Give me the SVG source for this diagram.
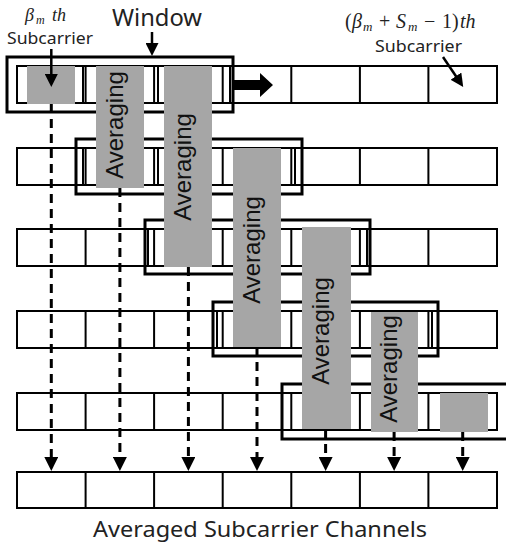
<svg xmlns="http://www.w3.org/2000/svg" width="506" height="552" viewBox="0 0 506 552">
<style>
.row{fill:#fff;stroke:#000;stroke-width:2}
.vl{stroke:#000;stroke-width:2;fill:none}
.win{fill:none;stroke:#000;stroke-width:3}
.box{fill:#a6a6a6}
.avg{font-family:"Liberation Sans",Arial,sans-serif;font-size:24px;fill:#111;text-anchor:middle}
.dash{stroke:#000;stroke-width:3;stroke-dasharray:9 6;fill:none}
.arr{stroke:#000;stroke-width:2.5;fill:none}
.lbl{font-family:"Noto Sans","DejaVu Sans",sans-serif;fill:#222}
.math{font-family:"Liberation Serif",serif;font-style:italic;fill:#222}
.up{font-style:normal}
</style>
<defs>
<marker id="ah" markerUnits="userSpaceOnUse" markerWidth="14" markerHeight="14" viewBox="0 0 14 14" refX="0" refY="7" orient="auto"><path d="M0,0 L14,7 L0,14 z" fill="#000"/></marker>
<marker id="ahs" markerUnits="userSpaceOnUse" markerWidth="13" markerHeight="13" viewBox="0 0 13 13" refX="1" refY="6.5" orient="auto"><path d="M0,0 L13,6.5 L0,13 z" fill="#000"/></marker>
</defs>

<g id="row1">
<rect class="row" x="17" y="66" width="480" height="37"/>
<path class="vl" d="M85.6,66v37M154.1,66v37M222.7,66v37M291.3,66v37M359.9,66v37M428.4,66v37M83,66v37M158,66v37M230,66v37"/>
</g>
<g id="row2">
<rect class="row" x="17" y="148" width="480" height="37"/>
<path class="vl" d="M85.6,148v37M154.1,148v37M222.7,148v37M291.3,148v37M359.9,148v37M428.4,148v37M83,148v37M158,148v37M295,148v37"/>
</g>
<g id="row3">
<rect class="row" x="17" y="229" width="480" height="37"/>
<path class="vl" d="M85.6,229v37M154.1,229v37M222.7,229v37M291.3,229v37M359.9,229v37M428.4,229v37M148,229v37M367,229v37"/>
</g>
<g id="row4">
<rect class="row" x="17" y="311" width="480" height="37"/>
<path class="vl" d="M85.6,311v37M154.1,311v37M222.7,311v37M291.3,311v37M359.9,311v37M428.4,311v37M217,311v37M432,311v37"/>
</g>
<g id="row5">
<rect class="row" x="17" y="393" width="480" height="37"/>
<path class="vl" d="M85.6,393v37M154.1,393v37M222.7,393v37M291.3,393v37M359.9,393v37M428.4,393v37"/>
</g>
<g id="output-row">
<rect class="row" x="17" y="472" width="480" height="36"/>
<path class="vl" d="M85.6,472v36M154.1,472v36M222.7,472v36M291.3,472v36M359.9,472v36M428.4,472v36"/>
</g>

<g id="window1"><rect class="win" x="7" y="57" width="226" height="55"/></g>
<g id="window2"><rect class="win" x="76" y="139" width="226" height="55"/></g>
<g id="window3"><rect class="win" x="145" y="220" width="225" height="54"/></g>
<g id="window4"><rect class="win" x="213" y="302" width="225" height="54"/></g>
<g id="window5"><rect class="win" x="282" y="384" width="230" height="55"/></g>

<g id="avg1"><rect class="box" x="27" y="66" width="48" height="38"/></g>
<g id="avg2"><rect class="box" x="96" y="66" width="48" height="122"/><text class="avg" transform="translate(123,125) rotate(-90)">Averaging</text></g>
<g id="avg3"><rect class="box" x="164" y="66" width="48" height="201"/><text class="avg" transform="translate(191,167) rotate(-90)">Averaging</text></g>
<g id="avg4"><rect class="box" x="233" y="148" width="48" height="199"/><text class="avg" transform="translate(260,250) rotate(-90)">Averaging</text></g>
<g id="avg5"><rect class="box" x="302" y="227" width="49" height="202"/><text class="avg" transform="translate(329,331) rotate(-90)">Averaging</text></g>
<g id="avg6"><rect class="box" x="371" y="312" width="47" height="120"/><text class="avg" transform="translate(397,369) rotate(-90)">Averaging</text></g>
<g id="avg7"><rect class="box" x="440" y="393" width="48" height="39"/></g>

<g id="connectors">
<path class="dash" marker-end="url(#ah)" d="M51.3,104V457"/>
<path class="dash" marker-end="url(#ah)" d="M119.9,188V457"/>
<path class="dash" marker-end="url(#ah)" d="M188.4,267V457"/>
<path class="dash" marker-end="url(#ah)" d="M257,347V457"/>
<path class="dash" marker-end="url(#ah)" d="M325.6,429V457"/>
<path class="dash" marker-end="url(#ah)" d="M394.1,432V457"/>
<path class="dash" marker-end="url(#ah)" d="M462.7,432V457"/>
<path class="arr" marker-end="url(#ahs)" d="M51.3,49V75"/>
<path class="arr" marker-end="url(#ahs)" d="M152,32V44"/>
<path class="arr" marker-end="url(#ahs)" d="M443,57L456.5,77"/>
<polygon points="232,80 260,80 260,73 273,85 260,97 260,90 232,90" fill="#000"/>
</g>

<g id="labels">
<text class="math" font-size="18" x="25" y="21">β</text>
<text class="math" font-size="12" x="36" y="24">m</text>
<text class="math" font-size="18" x="52" y="21">th</text>
<text class="lbl" x="7" y="44" font-size="16" textLength="86" lengthAdjust="spacingAndGlyphs">Subcarrier</text>
<text class="lbl" x="112" y="26" font-size="24" textLength="90" lengthAdjust="spacingAndGlyphs">Window</text>
<text class="math" font-size="20" y="28"><tspan class="up" x="345">(</tspan><tspan x="352">β</tspan><tspan x="363" y="31" font-size="13">m</tspan><tspan class="up" x="379" y="28">+</tspan><tspan x="396">S</tspan><tspan x="408" y="31" font-size="13">m</tspan><tspan class="up" x="424" y="28">−</tspan><tspan class="up" x="442">1</tspan><tspan class="up" x="452">)</tspan><tspan x="460">th</tspan></text>
<text class="lbl" x="375" y="52" font-size="16" textLength="87" lengthAdjust="spacingAndGlyphs">Subcarrier</text>
<text class="lbl" x="93" y="537" font-size="21" textLength="334" lengthAdjust="spacingAndGlyphs">Averaged Subcarrier Channels</text>
</g>
</svg>
